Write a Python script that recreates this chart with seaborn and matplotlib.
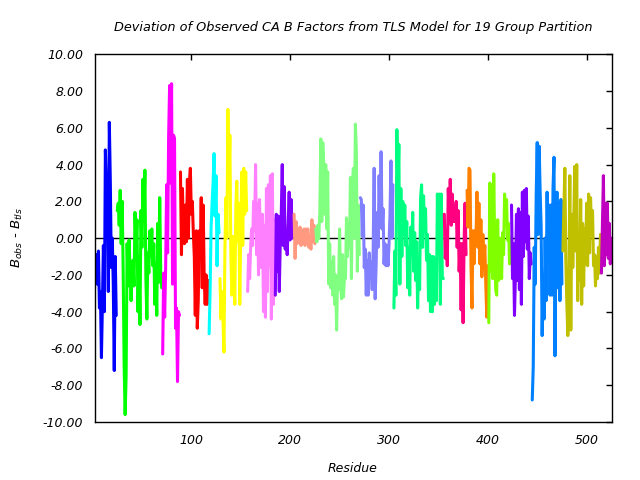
import numpy as np
import pandas as pd
import matplotlib
matplotlib.use("Agg")
import matplotlib.pyplot as plt
import seaborn as sns

first_residue = 2

group_colors = ["#0000ff", "#00ff00", "#ff00ff", "#ff0000", "#00ffff", "#ffff00",
                "#ff80ff", "#8000ff", "#ff9980", "#80ff80", "#8080ff", "#00ff80",
                "#ff0080", "#ff8000", "#80ff00", "#8000ff", "#0080ff", "#c0c000",
                "#c000c0"]

g01 = [-2.7, -1.6, -0.9, -2.5, -0.7, -3.8, -2.9, -6.5, -3.6, -0.4, -4.0, 4.8, 2.7, 3.4,
       -2.9, 6.3, 3.1, -1.6, 0.0, -2.5, -7.2, -1.0, -4.2]
g02 = [1.5, 1.9, 0.7, 2.6, -0.3, 2.0, -1.7, -6.9, -9.6, -7.5, -0.3, -2.6, -0.1, -1.9,
       -3.4, -2.0, -1.2, -2.6, 1.4, -0.5, 1.0, -4.0, -1.0, -4.7, 1.5, -0.5, 3.2, 1.0,
       3.7, -2.2, -4.4, -0.8, -1.9, 0.4, -1.0, 0.5, -1.5, -0.3, -3.6, -1.4, -4.2, 0.8,
       -2.4, 2.2, -1.8, -2.7]
g03 = [-6.3, -1.9, -4.3, -1.6, 2.9, -0.8, 5.5, 8.3, 3.0, 8.4, -2.5, 5.6, 5.4, -4.9,
       -3.8, -7.8, -4.0, -4.2]
g04 = [3.6, -0.9, 2.7, 0.4, -0.3, 1.8, -0.2, 3.2, 0.0, 3.0, 3.8, 1.3, 2.0, 0.3, -1.0,
       -4.2, 0.4, -4.9, -3.4, 0.4, -1.0, 2.2, -2.7, 1.8, -2.2, -3.6, -2.0, -3.6, -2.3]
g05 = [-5.2, -2.8, 0.6, 1.9, 3.0, 4.6, 1.2, 3.4, -1.5, 1.3, 0.3]
g06 = [-2.2, -4.4, -2.9, -4.3, -6.2, -0.5, 2.2, 0.0, 7.0, 2.9, 5.6, -1.0, -3.1, 0.1,
       -2.2, -3.6, 1.6, 3.1, -0.2, 1.9, -3.6, 0.4, 3.6, -0.4, 3.8, 1.3, 3.6, 1.5]
g07 = [-2.9, -0.9, -2.2, -0.5, 0.5, -0.4, 2.0, 0.4, 4.0, -0.9, 1.9, -2.0, 2.1, -0.5,
       -1.6, 1.3, -4.0, 0.7, -4.3, 2.7, -2.9, 2.9, -1.5, 3.4, -4.4, 3.5, -3.6, 1.0]
g08 = [-3.1, 1.3, -1.8, 1.2, -2.9, -0.2, 1.3, 4.0, -0.4, 2.8, -0.6, 0.4, -0.9, 0.8,
       2.5, -0.1, 2.1, 0.0, 0.7]
g09 = [1.3, -1.1, 0.9, -0.3, 0.4, -0.2, 0.6, -0.4, 0.3, -0.1, 0.5, -0.4, 0.5, 0.3,
       0.5, -0.5, 0.1, -0.6, 1.0, -0.2, 0.7, -0.3]
g10 = [0.5, -0.2, 0.7, 0.0, 1.4, 5.4, 0.9, 5.2, 4.0, 1.3, 4.0, 0.5, 3.6, -2.5, -0.3,
       -2.7, -1.3, -3.1, -1.0, -3.6, -2.0, -5.0, -2.1, -2.8, 0.5, -2.3, -3.3, -0.9,
       -3.2, -2.0, -2.2, 1.1, -1.0, 0.8, -0.5, 3.3, -2.2, 2.9, 3.8, 0.0, 6.2, 4.8,
       -1.8, 1.8, -0.9]
g11 = [2.2, 2.1, 0.1, 1.8, -1.6, -0.6, -3.1, -1.2, -3.1, -0.8, -2.2, -1.3, -2.8, -0.6,
       3.8, -3.3, -1.5, 1.4, -0.5, 3.4, 0.6, 4.7, 0.5, 1.6, -1.4, -0.3, -1.5, -0.4,
       -1.5, -0.4, 1.2, 4.2, 0.0, 2.9]
g12 = [-3.8, -0.7, -3.1, 5.9, 2.5, 5.1, -2.5, 2.7, -1.0, 2.0, 0.2, 1.8, -0.4, 0.9,
       -2.7, -0.5, -3.1, 0.6, -0.9, 1.4, -1.8, 0.3, -2.3, -0.2, -3.8, -1.4, -2.8, 2.2,
       2.9, -0.5, 2.3, 0.4, 1.6, -1.2, 0.2, -3.4, -0.9, -4.0, -1.0, -4.0, -1.0, -3.6,
       -1.1, -3.4, 2.4, -0.5, 2.4, -3.6, 2.4, -2.1, -2.2]
g13 = [1.3, -1.1, 0.4, -1.5, 2.7, 1.0, 3.2, 0.7, 2.4, 0.9, 1.7, 0.9, 2.0, -0.5, 1.5,
       -1.8, -0.3, -3.9, -0.3, -4.6, -0.3, 1.9, -0.9]
g14 = [2.6, 0.6, 3.8, 3.7, -1.5, -3.8, 0.4, -1.4, 0.4, -0.2, 2.5, -0.5, 1.9, -1.4,
       1.0, -2.1, 0.2, -1.2, -0.4, -2.6, -4.3, -1.5]
g15 = [-4.6, 3.0, -1.8, 2.9, -2.2, 3.5, -0.2, -2.8, -3.1, 1.0, -2.3, 0.0, -1.0, -2.2,
       0.3, -0.9, 2.4, 1.0, 2.1, -0.1, 0.8, -1.4, 0.0]
g16 = [1.8, -2.2, -0.3, -4.2, -2.0, 1.3, -2.3, 1.6, -2.8, 1.4, -3.6, 2.5, -1.0, 2.6,
       -0.2, 2.7, -0.6, 1.2, -2.2, -0.8, -1.4]
g17 = [-8.8, -7.0, -0.5, -2.5, 2.4, 5.2, 0.2, 5.0, 2.5, 0.6, -5.3, -2.0, -4.4, 0.0,
       -3.4, 2.5, -1.3, 1.8, -3.1, 1.8, -3.1, 2.7, 4.4, -6.4, 0.3, 2.5, -2.7, 1.9,
       -3.4, 2.1, -2.5]
g18 = [-0.7, 1.6, 3.8, -1.3, -3.6, -5.3, -3.2, 3.4, -5.0, 1.3, -1.6, 0.9, 3.9, -0.7,
       4.0, -3.4, 0.1, -2.3, 2.1, -3.6, 0.8, -2.6, 0.5, -1.4, 1.9, -1.5, 2.4, -0.8,
       2.2, 0.3, 1.5, -1.5, -0.9, -2.6, -1.0, -2.2, -0.5, -1.9, 0.2]
g19 = [-1.9, 0.7, 3.4, -1.5, 1.9, -0.9, 1.9, -1.1, 0.8, -1.4, 0.0, -0.8]

groups = [g01, g02, g03, g04, g05, g06, g07, g08, g09, g10,
          g11, g12, g13, g14, g15, g16, g17, g18, g19]

x_ticks = [100, 200, 300, 400, 500]
y_ticks = [-10, -8, -6, -4, -2, 0, 2, 4, 6, 8, 10]

title = "Deviation of Observed CA B Factors from TLS Model for 19 Group Partition"

# Build a long table
rows = []
res = first_residue
for gi, vals in enumerate(groups):
    for v in vals:
        rows.append((res, v, gi))
        res += 1
df = pd.DataFrame(rows, columns=["residue", "dev", "group"])
last_residue = res - 1

sns.set_theme(style="white")
plt.rcParams["font.family"] = ["DejaVu Sans"]
plt.rcParams["axes.unicode_minus"] = False
plt.rcParams["mathtext.fontset"] = "dejavusans"

fig = plt.figure(figsize=(6.4, 4.8), dpi=100)
ax = fig.add_axes([94.5 / 640, 1 - 422 / 480, (612.3 - 94.5) / 640, (422 - 54.3) / 480])

ax.axhline(0, color="black", lw=1.0, zorder=1)

palette = {i: c for i, c in enumerate(group_colors)}
sns.lineplot(data=df, x="residue", y="dev", hue="group", palette=palette,
             estimator=None, sort=False, legend=False, lw=2.2, ax=ax, zorder=2)

ax.set_xlim(first_residue, last_residue)
ax.set_ylim(-10, 10)
ax.set_xticks(x_ticks)
ax.set_yticks(y_ticks)
ax.set_yticklabels([f"{v:.2f}" for v in y_ticks])
ax.set_xticklabels([str(v) for v in x_ticks])
ax.tick_params(direction="in", length=4.5, width=1, color="black",
               top=True, right=True, labelsize=9, labelcolor="black")
ax.tick_params(axis="y", pad=8)
ax.tick_params(axis="x", pad=9)
for lab in ax.get_xticklabels() + ax.get_yticklabels():
    lab.set_fontstyle("italic")
for s in ax.spines.values():
    s.set_color("black")
    s.set_linewidth(1.0)
ax.set_xlabel("")
ax.set_ylabel("")

fig.text(353 / 640, 1 - 27 / 480, title, ha="center", va="center",
         fontsize=9.3, style="italic", color="black")
fig.text(353 / 640, 1 - 468 / 480, "Residue", ha="center", va="center",
         fontsize=9, style="italic", color="black")
fig.text(17 / 640, 1 - 238 / 480, r"$B_{obs}$ - $B_{tls}$", ha="center", va="center",
         rotation=90, fontsize=9.5, style="italic", color="black")

fig.savefig("out.png", dpi=100, facecolor="white")
